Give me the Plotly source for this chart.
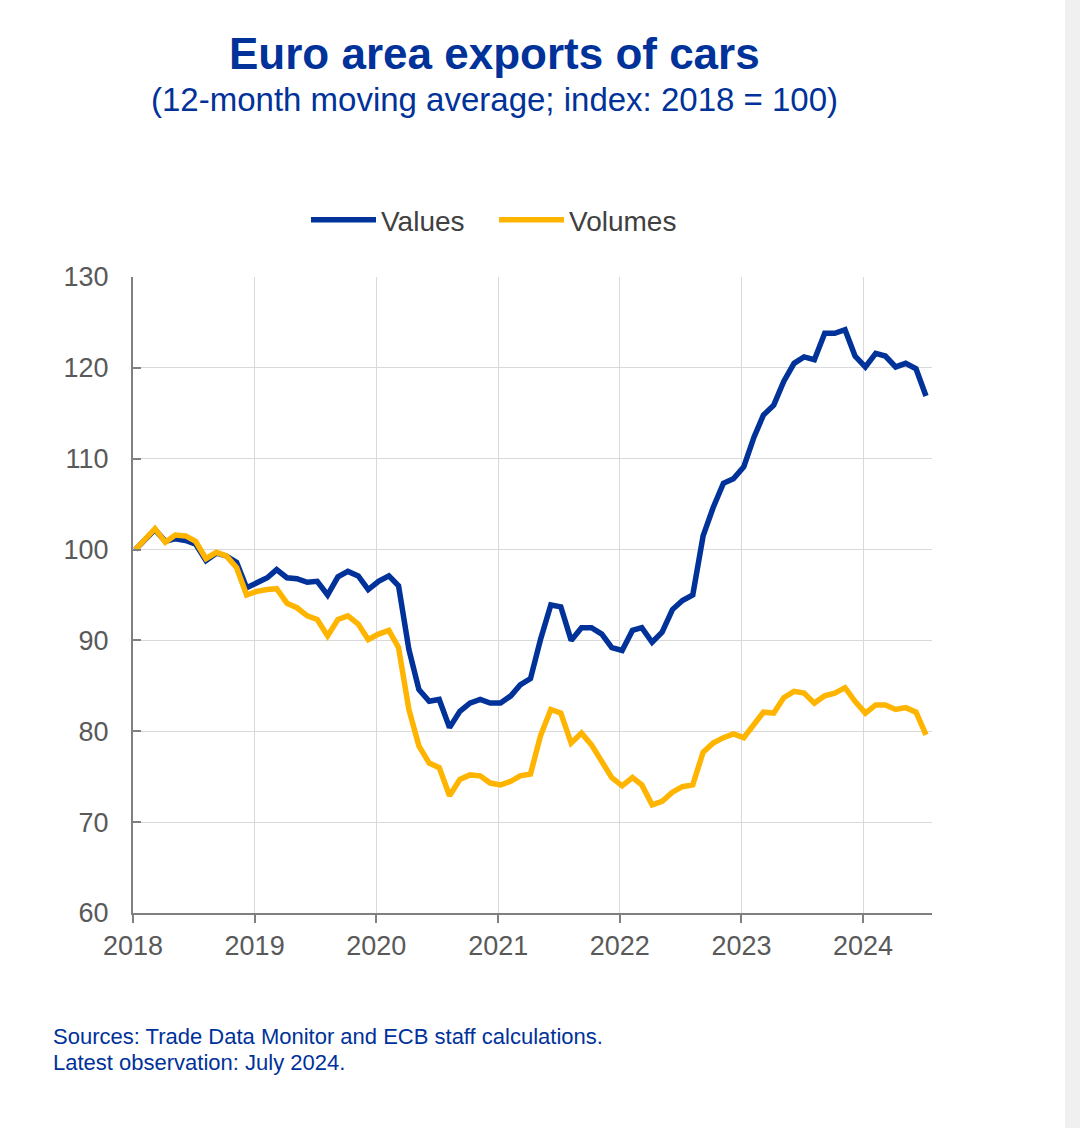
import pandas as pd
import plotly.graph_objects as go

# ---- data (monthly, Jan 2018 - Jul 2024) ----
start_month = "2018-01-01"
n_months = 79

values = [
    100.0, 101.1, 102.2, 100.9, 101.2, 101.0, 100.6, 98.8, 99.6, 99.3, 98.6, 95.8,   # 2018
    96.3, 96.9, 97.8, 96.9, 96.8, 96.4, 96.5, 95.0, 97.0, 97.6, 97.1, 95.6,          # 2019
    96.5, 97.1, 96.0, 89.0, 84.6, 83.3, 83.5, 80.4, 82.2, 83.1, 83.5, 83.1,          # 2020
    83.1, 83.9, 85.1, 85.8, 90.1, 93.9, 93.7, 90.0, 91.4, 91.4, 90.7, 89.2,          # 2021
    88.9, 91.1, 91.4, 89.8, 90.9, 93.4, 94.4, 95.0, 101.5, 104.6, 107.3, 107.8,      # 2022
    109.1, 112.4, 114.8, 115.9, 118.5, 120.5, 121.2, 120.9, 123.8, 123.8, 124.2, 121.3,  # 2023
    120.1, 121.6, 121.3, 120.1, 120.5, 119.9, 116.9,                                 # 2024
]
volumes = [
    100.0, 101.2, 102.3, 100.8, 101.6, 101.5, 100.9, 99.0, 99.7, 99.3, 98.0, 95.0,   # 2018
    95.4, 95.6, 95.7, 94.1, 93.6, 92.7, 92.3, 90.5, 92.3, 92.7, 91.8, 90.1,          # 2019
    90.7, 91.1, 89.2, 82.4, 78.4, 76.5, 76.0, 72.9, 74.7, 75.2, 75.1, 74.3,          # 2020
    74.1, 74.5, 75.1, 75.3, 79.5, 82.4, 82.0, 78.7, 79.8, 78.5, 76.7, 74.9,          # 2021
    74.0, 74.9, 74.1, 71.9, 72.3, 73.3, 73.9, 74.1, 77.7, 78.7, 79.3, 79.7,          # 2022
    79.3, 80.9, 82.1, 82.0, 83.7, 84.4, 84.2, 83.1, 83.9, 84.2, 84.8, 83.3,          # 2023
    82.0, 82.9, 82.9, 82.4, 82.6, 82.1, 79.6,                                        # 2024
]
series_names = ["Values", "Volumes"]
year_ticks = ["2018", "2019", "2020", "2021", "2022", "2023", "2024"]
y_ticks = [60, 70, 80, 90, 100, 110, 120, 130]

dates = pd.date_range(start_month, periods=n_months, freq="MS") + pd.Timedelta(days=7)

BLUE = "#003299"
YELLOW = "#FFB400"
FONT = "Liberation Sans, Arial, sans-serif"

fig = go.Figure()
fig.add_trace(go.Scatter(x=dates, y=values, mode="lines", name=series_names[0],
                         line=dict(color=BLUE, width=5.5)))
fig.add_trace(go.Scatter(x=dates, y=volumes, mode="lines", name=series_names[1],
                         line=dict(color=YELLOW, width=5.5)))

L, R, T, B = 133, 148, 277, 215
W, H = 1080, 1128
pw, ph = W - L - R, H - T - B

def px_x(x):
    return (x - L) / pw

def px_y(y):
    return (H - B - y) / ph

fig.update_layout(
    width=W, height=H,
    margin=dict(l=L, r=R, t=T, b=B),
    paper_bgcolor="white", plot_bgcolor="white",
    font=dict(family=FONT, color="#595959"),
    showlegend=True,
    legend=dict(orientation="h", x=px_x(306), xanchor="left", y=px_y(220), yanchor="middle",
                font=dict(size=28, color="#404040", family=FONT),
                itemwidth=65, entrywidth=108, entrywidthmode="pixels",
                bgcolor="rgba(0,0,0,0)"),
    xaxis=dict(
        type="date",
        range=["2018-01-01", "2024-07-26"],
        tickvals=[f"{y}-01-01" for y in year_ticks],
        ticktext=year_ticks,
        showgrid=True, gridcolor="#d9d9d9", gridwidth=1,
        showline=True, linecolor="#808080", linewidth=2,
        ticks="outside", ticklen=8, tickcolor="#808080", tickwidth=1.5,
        tickfont=dict(size=27, color="#595959", family=FONT),
        zeroline=False,
    ),
    yaxis=dict(
        range=[60, 130],
        tickvals=y_ticks,
        showgrid=True, gridcolor="#d9d9d9", gridwidth=1,
        showline=True, linecolor="#808080", linewidth=2,
        ticks="inside", ticklen=8, tickcolor="#808080", tickwidth=1.5,
        tickfont=dict(size=27, color="#595959", family=FONT),
        ticklabelstandoff=17,
        zeroline=False,
    ),
    annotations=[
        dict(text="<b>Euro area exports of cars</b>", xref="paper", yref="paper",
             x=px_x(494), y=px_y(53), xanchor="center", yanchor="middle", showarrow=False,
             font=dict(size=44, color=BLUE, family=FONT)),
        dict(text="(12-month moving average; index: 2018 = 100)", xref="paper", yref="paper",
             x=px_x(494), y=px_y(100), xanchor="center", yanchor="middle", showarrow=False,
             font=dict(size=33, color=BLUE, family=FONT)),
        dict(text="Sources: Trade Data Monitor and ECB staff calculations.", xref="paper", yref="paper",
             x=px_x(51), y=px_y(1036), xanchor="left", yanchor="middle", showarrow=False,
             font=dict(size=22, color=BLUE, family=FONT)),
        dict(text="Latest observation: July 2024.", xref="paper", yref="paper",
             x=px_x(51), y=px_y(1062), xanchor="left", yanchor="middle", showarrow=False,
             font=dict(size=22, color=BLUE, family=FONT)),
    ],
    shapes=[
        dict(type="rect", xref="paper", yref="paper", x0=px_x(1065), x1=px_x(1090),
             y0=px_y(1140), y1=px_y(-10), fillcolor="#f0f0f0", line=dict(width=0), layer="below"),
    ],
)

fig.write_html("out.html")
